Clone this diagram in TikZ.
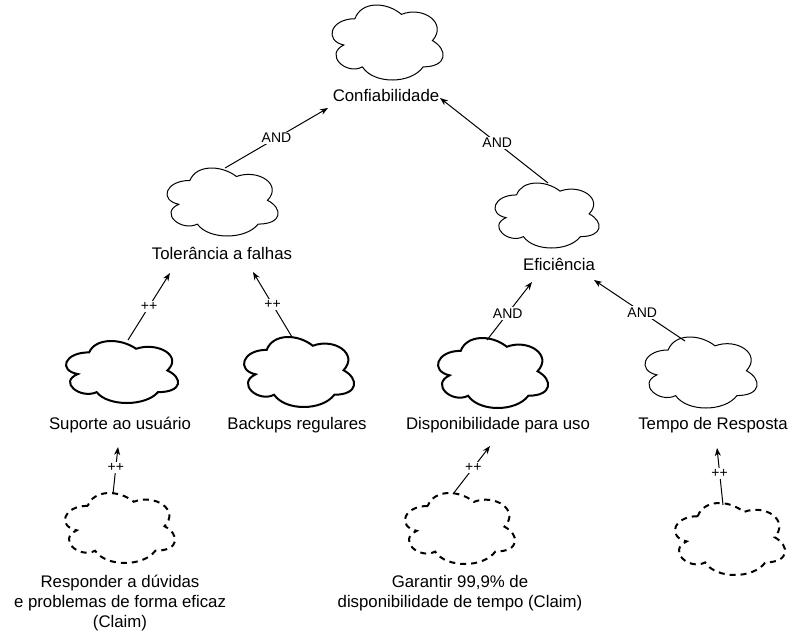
\documentclass[tikz,border=0pt]{standalone}
\usepackage{fontspec}
\setmainfont{Liberation Sans}
\usetikzlibrary{arrows.meta}

\tikzset{
  thincloud/.style={line width=1pt},
  thickcloud/.style={line width=2pt},
  dashcloud/.style={line width=2pt, dash pattern=on 6pt off 5pt},
  lbl/.style={font=\fontsize{16.8}{20}\selectfont, anchor=base, inner sep=0pt},
  elbl/.style={font=\fontsize{14}{16}\selectfont, fill=white, inner sep=1.5pt},
  conn/.style={line width=1pt, -{Stealth[length=8pt,width=6pt,inset=2.5pt]}},
}

% #1 name, #2 left, #3 top, #4 right, #5 bottom (visible extents), #6 style
\newcommand{\mycloud}[6]{%
  \pgfmathsetmacro{\cldw}{(#4-#2)/0.895}%
  \pgfmathsetmacro{\cldh}{(#5-#3)/0.857}%
  \pgfmathsetmacro{\cldx}{#2-0.065*\cldw}%
  \pgfmathsetmacro{\cldy}{#3-0.093*\cldh}%
  \begin{scope}[shift={(\cldx,\cldy)}, x=\cldw pt, y=-\cldh pt]
    \draw[#6] (0.25,0.25) .. controls (0.05,0.25) and (0,0.5) .. (0.16,0.55)
      .. controls (0,0.66) and (0.18,0.9) .. (0.31,0.8)
      .. controls (0.4,1) and (0.7,1) .. (0.8,0.8)
      .. controls (1,0.8) and (1,0.6) .. (0.875,0.5)
      .. controls (1,0.3) and (0.8,0.1) .. (0.625,0.2)
      .. controls (0.5,0.05) and (0.3,0.05) .. (0.25,0.25) -- cycle;
    \coordinate (#1) at (0.5,0.5);
  \end{scope}
}

\begin{document}
\begin{tikzpicture}[x=1pt, y=-1pt]
  \fill[white] (0,0) rectangle (798,638);
  \useasboundingbox (0,0) rectangle (798,638);

  % clouds
  \mycloud{cConf}{332}{5}{443}{80}{thincloud}
  \mycloud{cTol}{167}{168}{278}{236}{thincloud}
  \mycloud{cEfi}{495}{183}{599}{248}{thincloud}
  \mycloud{cSup}{66}{341}{178}{403}{thickcloud}
  \mycloud{cBak}{244}{337}{354}{407}{thickcloud}
  \mycloud{cDisp}{438}{338}{548}{408}{thickcloud}
  \mycloud{cTemp}{645}{337}{757}{408}{thincloud}
  \mycloud{cResp}{65}{493}{175}{563}{dashcloud}
  \mycloud{cGar}{405}{493}{515}{564}{dashcloud}
  \mycloud{cClaim}{675}{503}{785}{575}{dashcloud}

  % labels
  \node[lbl] (lConf) at (386,101) {Confiabilidade};
  \node[lbl] (lTol) at (222,259) {Tolerância a falhas};
  \node[lbl] (lEfi) at (559,270) {Eficiência};
  \node[lbl] (lSup) at (120,429) {Suporte ao usuário};
  \node[lbl] (lBak) at (297,429) {Backups regulares};
  \node[lbl] (lDisp) at (498,429) {Disponibilidade para uso};
  \node[lbl] (lTemp) at (713,429) {Tempo de Resposta};
  \node[lbl] (lResp1) at (120,587) {Responder a dúvidas};
  \node[lbl] (lResp2) at (120,607) {e problemas de forma eficaz};
  \node[lbl] (lResp3) at (120,627) {(Claim)};
  \node[lbl] (lGar1) at (460,587) {Garantir 99,9\% de};
  \node[lbl] (lGar2) at (460,607) {disponibilidade de tempo (Claim)};

  % connector end points
  \coordinate (tolOut) at (225,168);
  \coordinate (confInL) at (328,108);
  \coordinate (efiOut) at (548,183);
  \coordinate (confInR) at (440,98);
  \coordinate (supOut) at (128,340);
  \coordinate (tolInL) at (170,273);
  \coordinate (bakOut) at (292,337);
  \coordinate (tolInR) at (253,272);
  \coordinate (dispOut) at (487,340);
  \coordinate (efiInL) at (532,282);
  \coordinate (tempOut) at (685,341);
  \coordinate (efiInR) at (594,280);
  \coordinate (respOut) at (113,494);
  \coordinate (supIn) at (118,447);
  \coordinate (garOut) at (453,494);
  \coordinate (dispIn) at (490,446);
  \coordinate (claimOut) at (723,505);
  \coordinate (tempIn) at (717,448);

  % connectors
  \draw[conn] (tolOut) -- node[elbl, pos=0.5] (a1) {AND} (confInL);
  \draw[conn] (efiOut) -- node[elbl, pos=0.47] (a2) {AND} (confInR);
  \draw[conn] (supOut) -- node[elbl, pos=0.5] (p1) {++} (tolInL);
  \draw[conn] (bakOut) -- node[elbl, pos=0.5] (p2) {++} (tolInR);
  \draw[conn] (dispOut) -- node[elbl, pos=0.46] (a3) {AND} (efiInL);
  \draw[conn] (tempOut) -- node[elbl, pos=0.47] (a4) {AND} (efiInR);
  \draw[conn] (respOut) -- node[elbl, pos=0.57] (p3) {++} (supIn);
  \draw[conn] (garOut) -- node[elbl, pos=0.55] (p4) {++} (dispIn);
  \draw[conn] (claimOut) -- node[elbl, pos=0.56] (p5) {++} (tempIn);
\end{tikzpicture}
\end{document}
